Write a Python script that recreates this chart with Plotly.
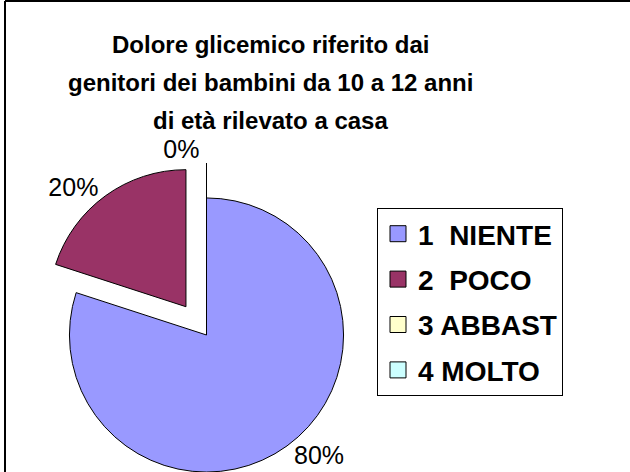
import plotly.graph_objects as go

# ---- data ----
categories = ["1  NIENTE", "2  POCO", "3 ABBAST", "4 MOLTO"]
values = [80, 20, 0, 0]
colors = ["#9999FF", "#993366", "#FFFFCC", "#CCFFFF"]
pulls = [0, 0.255, 0.255, 0.255]
label_templates = ["%{percent:.0%}", "%{percent:.0%}", "%{percent:.0%}", ""]
title_lines = ["Dolore glicemico riferito dai",
               "genitori dei bambini da 10 a 12 anni",
               "di età rilevato a casa"]

FONT = "Liberation Sans, Arial, sans-serif"
W, H = 630, 520
ML, MT = 5, 2
PW, PH = W - ML, H - MT

def px_x(x):
    return (x - ML) / PW

def px_y(y):
    return 1 - (y - MT) / PH

fig = go.Figure()

box = 344
cx, cy = 206.5, 335
fig.add_trace(go.Pie(
    labels=categories, values=values, sort=False, direction="clockwise",
    rotation=0, pull=pulls,
    marker=dict(colors=colors, line=dict(color="black", width=1)),
    texttemplate=label_templates, textposition="outside",
    textfont=dict(family=FONT, size=25, color="black"),
    showlegend=False, hoverinfo="label+percent",
    domain=dict(x=[px_x(cx - box / 2), px_x(cx + box / 2)],
                y=[px_y(cy + box / 2), px_y(cy - box / 2)]),
))

# legend entries
for i, (name, col) in enumerate(zip(categories, colors)):
    fig.add_trace(go.Scatter(
        x=[None], y=[None], mode="markers", name=name, legendgroup=f"g{i}",
        marker=dict(symbol="square", size=16, color=col,
                    line=dict(color="black", width=1)),
        showlegend=True,
    ))

annotations = []
for txt, yy in zip(title_lines, [44, 82, 120]):
    annotations.append(dict(
        text=txt, x=px_x(270), y=px_y(yy), xref="paper", yref="paper",
        xanchor="center", yanchor="middle", showarrow=False,
        font=dict(family=FONT, size=24, color="black", weight="bold"),
    ))

fig.update_layout(
    width=W, height=H,
    margin=dict(l=ML, r=0, t=MT, b=0, autoexpand=False),
    paper_bgcolor="white", plot_bgcolor="white",
    xaxis=dict(visible=False), yaxis=dict(visible=False),
    annotations=annotations,
    legend=dict(
        x=px_x(377), y=px_y(208), xanchor="left", yanchor="top",
        bordercolor="black", borderwidth=1, bgcolor="white",
        font=dict(family=FONT, size=28, color="black", weight="bold"),
        tracegroupgap=6, itemsizing="trace",
    ),
    shapes=[
        dict(type="line", xref="paper", yref="paper",
             x0=0, x1=1, y0=px_y(1), y1=px_y(1),
             line=dict(color="black", width=2)),
        dict(type="line", xref="paper", yref="paper",
             x0=0, x1=0, y0=0, y1=px_y(1),
             line=dict(color="black", width=2)),
    ],
)

fig.write_html("out.html",
               config={"displayModeBar": False},
               post_script="document.body.style.margin='0';"
                           "document.body.style.overflow='hidden';"
                           "document.documentElement.style.overflow='hidden';")
